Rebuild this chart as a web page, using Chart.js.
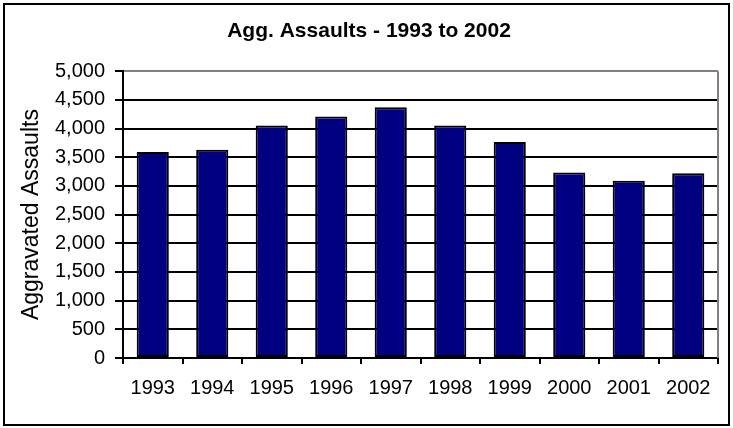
<!DOCTYPE html>
<html>
<head>
<meta charset="utf-8">
<script src="https://cdn.jsdelivr.net/npm/chart.js@4"></script>
<style>
    body { margin: 0; background: #fff; }
    #wrap { width: 733px; height: 428px; }
</style>
</head>
<body>
<div id="wrap"><canvas id="myChart" width="733" height="428"></canvas></div>
<script>
// Yearly counts
const years = ['1993', '1994', '1995', '1996', '1997', '1998', '1999', '2000', '2001', '2002'];
const assaults = [3590, 3630, 4055, 4210, 4370, 4055, 3765, 3235, 3090, 3220];

// Value axis
const yMin = 0;
const yMax = 5000;
const yStep = 500;

const chartTitle = 'Agg. Assaults - 1993 to 2002';
const yTitle = 'Aggravated Assaults';

const fontFamily = "'Liberation Sans', Arial, sans-serif";

// Outer frame and the gray right edge of the plot area
const framePlugin = {
    id: 'frame',
    beforeDraw(chart) {
        const ctx = chart.ctx;
        ctx.save();
        ctx.fillStyle = '#fff';
        ctx.fillRect(0, 0, chart.width, chart.height);
        ctx.strokeStyle = '#000';
        ctx.lineWidth = 2;
        ctx.strokeRect(4, 4, chart.width - 8, chart.height - 7);
        ctx.restore();
    },
    beforeDatasetsDraw(chart) {
        const { ctx, chartArea } = chart;
        ctx.save();
        ctx.strokeStyle = '#808080';
        ctx.lineWidth = 2;
        ctx.beginPath();
        ctx.moveTo(Math.round(chartArea.right), chartArea.top);
        ctx.lineTo(Math.round(chartArea.right), chartArea.bottom);
        ctx.stroke();
        ctx.restore();
    }
};

const ctx = document.getElementById('myChart').getContext('2d');
const myChart = new Chart(ctx, {
    type: 'bar',
    data: {
        labels: years,
        datasets: [{
            label: yTitle,
            data: assaults,
            backgroundColor: '#000080',
            borderColor: '#000',
            borderWidth: 2,
            borderSkipped: false,
            barPercentage: 0.54,
            categoryPercentage: 1
        }]
    },
    options: {
        responsive: false,
        animation: false,
        layout: {
            padding: { left: 20, right: 15, top: 10, bottom: 20 }
        },
        plugins: {
            legend: { display: false },
            tooltip: { enabled: false },
            title: {
                display: true,
                text: chartTitle,
                color: '#000',
                font: { family: fontFamily, size: 21, weight: 'bold', lineHeight: 1.2 },
                padding: { top: 9, bottom: 27 }
            }
        },
        scales: {
            x: {
                afterFit: (scale) => { scale.height = 50; },
                grid: {
                    drawOnChartArea: false,
                    drawTicks: true,
                    tickLength: 6,
                    tickColor: '#000',
                    lineWidth: 2
                },
                border: { display: true, color: '#000', width: 2 },
                ticks: {
                    color: '#000',
                    padding: 12,
                    font: { family: fontFamily, size: 20 }
                }
            },
            y: {
                min: yMin,
                max: yMax,
                afterFit: (scale) => { scale.width = 103; },
                grid: {
                    color: (c) => (c.tick && c.tick.value === yMax ? '#808080' : '#000'),
                    tickColor: '#000',
                    lineWidth: 2,
                    tickLength: 8
                },
                border: { display: true, color: '#000', width: 2 },
                ticks: {
                    stepSize: yStep,
                    color: '#000',
                    padding: 10,
                    font: { family: fontFamily, size: 20 },
                    callback: (v) => v.toLocaleString('en-US')
                },
                title: {
                    display: true,
                    text: yTitle,
                    color: '#000',
                    padding: { top: 0, bottom: 0 },
                    font: { family: fontFamily, size: 23, lineHeight: 1 }
                }
            }
        }
    },
    plugins: [framePlugin]
});
</script>
</body>
</html>
